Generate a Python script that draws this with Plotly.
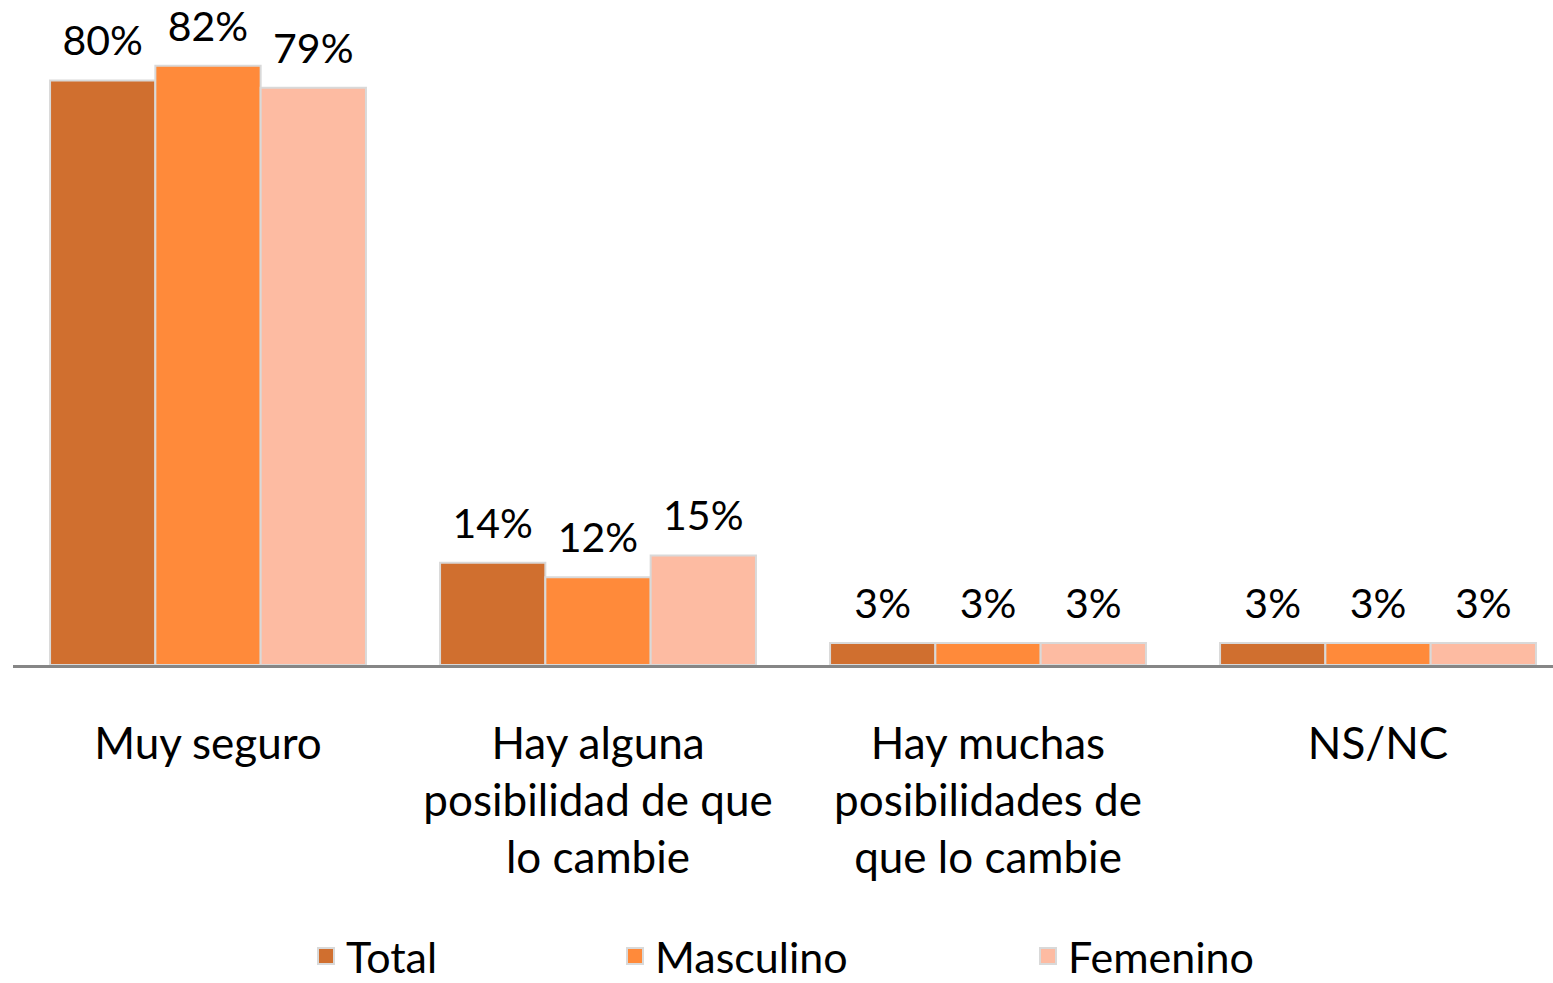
import plotly.graph_objects as go

categories = ["Muy seguro", "Hay alguna<br>posibilidad de que<br>lo cambie",
              "Hay muchas<br>posibilidades de<br>que lo cambie", "NS/NC"]
series_names = ["Total", "Masculino", "Femenino"]
total = [80, 14, 3, 3]
masculino = [82, 12, 3, 3]
femenino = [79, 15, 3, 3]
colors = ["#D06F2F", "#FF8A3A", "#FDBBA2"]

FONT = "Lato"
W, H = 1553, 983
ML, MR, MT, MB = 13, 0, 0, 318

fig = go.Figure()
legend_ids = ["legend", "legend2", "legend3"]
for name, vals, col in zip(series_names, [total, masculino, femenino], colors):
    fig.add_trace(go.Bar(
        x=categories, y=vals, name=name, showlegend=False,
        marker=dict(color=col, line=dict(color="#D9D9D9", width=2)),
        hoverinfo="skip",
    ))
for name, vals, col in zip(series_names, [total, masculino, femenino], colors):
    # value labels, grouped like the bars
    fig.add_trace(go.Scatter(
        x=categories, y=vals, name=name, showlegend=False,
        mode="markers+text", text=[f"{v}%" for v in vals],
        textposition="top center",
        textfont=dict(family=FONT, size=41, color="#000000"),
        marker=dict(size=22, color="rgba(0,0,0,0)"),
        cliponaxis=False, hoverinfo="skip",
    ))
for name, col, lid in zip(series_names, colors, legend_ids):
    # legend entry with a larger square symbol (on hidden axes so it does not affect grouping)
    fig.add_trace(go.Scatter(
        x=[None], y=[None], mode="markers", name=name, legend=lid,
        showlegend=True, xaxis="x2", yaxis="y2",
        marker=dict(symbol="square", size=22, color=col,
                    line=dict(color="#D9D9D9", width=2)),
    ))

legend_px = [306, 615, 1028]
leg = {}
for lid, px in zip(legend_ids, legend_px):
    leg[lid] = dict(xref="container", yref="container",
                    x=px / W, y=(H - 956) / H,
                    xanchor="left", yanchor="middle", orientation="h",
                    font=dict(family=FONT, size=43, color="#000000"),
                    bgcolor="rgba(0,0,0,0)", itemsizing="trace")

group_px = 390.0
pw = W - ML - MR
fig.update_layout(
    width=W, height=H,
    margin=dict(l=ML, r=MR, t=MT, b=MB, autoexpand=False),
    paper_bgcolor="white", plot_bgcolor="white",
    showlegend=True,
    barmode="group", bargap=0.19, bargroupgap=0,
    scattermode="group", scattergap=0.19,
    font=dict(family=FONT, size=32, color="#000000"),
    xaxis=dict(showline=True, linecolor="#868686", linewidth=3, ticks="",
               tickfont=dict(family=FONT, size=44, color="#000000"),
               ticklabelstandoff=38, showgrid=False, automargin=False,
               range=[-0.5, -0.5 + pw / group_px]),
    yaxis=dict(range=[0, 91], visible=False, showgrid=False, automargin=False),
    xaxis2=dict(overlaying="x", visible=False),
    yaxis2=dict(overlaying="y", visible=False),
    **leg,
)

fig.write_html("out.html", config={"displayModeBar": False},
               post_script="document.body.style.margin='0';")
